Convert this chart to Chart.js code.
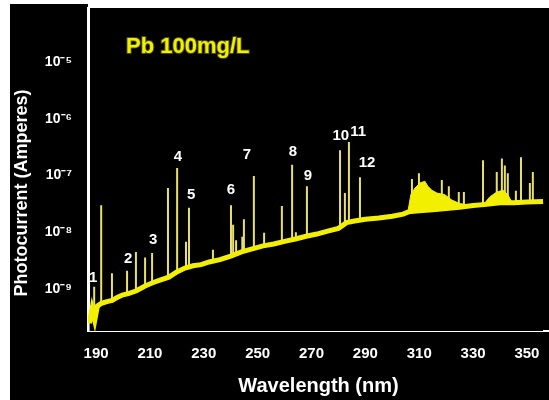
<!DOCTYPE html>
<html>
<head>
<meta charset="utf-8">
<script src="https://cdn.jsdelivr.net/npm/chart.js@4.4.1/dist/chart.umd.min.js"></script>
<style>
  html, body { margin: 0; padding: 0; background: #fff; }
  canvas { display: block; }
</style>
</head>
<body>
<canvas id="chart" width="549" height="400"></canvas>
<script>
var xTicks = [190, 210, 230, 250, 270, 290, 310, 330, 350];
var yTicks = [1e-9, 1e-8, 1e-7, 1e-6, 1e-5];
var yTickLabels = ['10⁻⁹', '10⁻⁸', '10⁻⁷', '10⁻⁶', '10⁻⁵'];
var yMin = 1.82e-10;
var yMax = 8.95e-5;

// background (noisy continuum)
var baseWavelength = [187.5, 188.5, 189.5, 190.5, 192, 194, 196, 198, 200, 202, 205, 208, 211, 214, 217, 220,
  223, 226, 229, 232, 236, 240, 244, 248, 252, 256, 260, 264, 268, 272, 276, 280, 283, 286, 290, 295, 300,
  304, 306, 310, 315, 320, 325, 330, 335, 340, 345, 350, 356];
var baseCurrent = [2.5e-10, 4.5e-10, 2.8e-10, 5.0e-10, 5.6e-10, 6.0e-10, 6.3e-10, 7.2e-10, 7.9e-10, 8.3e-10,
  9.3e-10, 1.12e-9, 1.29e-9, 1.45e-9, 1.62e-9, 2.0e-9, 2.34e-9, 2.57e-9, 2.69e-9, 3.0e-9, 3.3e-9, 3.8e-9,
  4.5e-9, 5.1e-9, 5.75e-9, 6.2e-9, 6.9e-9, 7.6e-9, 8.5e-9, 9.3e-9, 1.05e-8, 1.17e-8, 1.48e-8, 1.58e-8,
  1.7e-8, 1.78e-8, 1.91e-8, 2.09e-8, 2.29e-8, 2.4e-8, 2.5e-8, 2.63e-8, 2.75e-8, 2.95e-8, 3.1e-8, 3.3e-8,
  3.3e-8, 3.4e-8, 3.5e-8];

// band structure between 306 and 345 nm
var humpWavelength = [305.8, 306.9, 308.4, 310.3, 312.1, 313.2, 314.7, 316.6, 319.5, 322.1, 325.1, 328.8,
  334.4, 336.2, 338.8, 341.1, 342.9, 344.4];
var humpCurrent = [2.3e-8, 4.6e-8, 6.0e-8, 7.4e-8, 7.9e-8, 6.5e-8, 5.5e-8, 4.9e-8, 4.6e-8, 3.7e-8, 3.2e-8,
  3.0e-8, 3.3e-8, 4.2e-8, 5.1e-8, 5.5e-8, 4.6e-8, 3.4e-8];

// emission lines: wavelength and peak current
var lineWavelength = [189.3, 191.9, 195.9, 201.5, 204.8, 208.2, 210.8, 216.7, 220.1, 223.4, 224.5, 233.4,
  240.1, 240.9, 242.0, 244.3, 244.9, 248.6, 252.4, 259.0, 262.8, 264.2, 268.3, 280.6, 282.4, 283.9, 288.0,
  307.3, 309.9, 318.4, 321.0, 324.7, 326.6, 333.7, 338.8, 340.7, 341.8, 342.9, 345.9, 347.8, 351.1, 352.2];
var linePeak = [1.1e-9, 3.0e-8, 1.9e-9, 2.1e-9, 4.5e-9, 3.6e-9, 4.3e-9, 6.0e-8, 1.35e-7, 6.8e-9, 2.7e-8, 4.9e-9,
  3.0e-8, 1.35e-8, 7.2e-9, 8.3e-9, 1.7e-8, 9.8e-8, 9.8e-9, 2.9e-8, 1.55e-7, 1.0e-8, 6.5e-8, 2.8e-7, 4.9e-8,
  3.9e-7, 9.3e-8, 8.7e-8, 1.1e-7, 8.3e-8, 6.5e-8, 5.1e-8, 5.1e-8, 1.86e-7, 1.15e-7, 2.0e-7, 1.5e-7, 1.1e-7,
  5.4e-8, 2.1e-7, 7.4e-8, 1.15e-7];

// numbered line labels
var labelText = ['1', '2', '3', '4', '5', '6', '7', '8', '9', '10', '11', '12'];
var labelWavelength = [188.9, 201.9, 211.2, 220.4, 225.3, 240.1, 246.0, 263.1, 268.7, 280.9, 287.3, 290.6];
var labelCurrent = [1.55e-9, 3.4e-9, 7.2e-9, 2.1e-7, 4.6e-8, 5.5e-8, 2.3e-7, 2.6e-7, 9.8e-8, 5.0e-7, 5.9e-7, 1.66e-7];

var baseData = baseWavelength.map(function (w, i) { return {x: w, y: baseCurrent[i]}; });
var humpData = humpWavelength.map(function (w, i) { return {x: w, y: humpCurrent[i]}; });
var lineData = [];
lineWavelength.forEach(function (w, i) {
  lineData.push({x: w, y: yMin});
  lineData.push({x: w, y: linePeak[i]});
  lineData.push({x: w, y: null});
});

var panel = {
  id: 'panel',
  beforeDraw: function (chart) {
    var ctx = chart.ctx;
    ctx.save();
    ctx.fillStyle = '#000';
    ctx.fillRect(10, 4, chart.width - 10, chart.height - 4);
    ctx.fillStyle = '#fff';
    ctx.fillRect(chart.chartArea.left, 4, chart.width, 4);
    ctx.restore();
  },
  afterDraw: function (chart) {
    var ctx = chart.ctx;
    var area = chart.chartArea;
    var xs = chart.scales.x;
    var ys = chart.scales.y;
    ctx.save();
    ctx.textAlign = 'center';
    ctx.textBaseline = 'middle';
    ctx.fillStyle = '#fff';
    ctx.font = 'bold 15px "Liberation Sans", Arial, sans-serif';
    labelText.forEach(function (t, i) {
      ctx.fillText(t, xs.getPixelForValue(labelWavelength[i]), ys.getPixelForValue(labelCurrent[i]));
    });
    // plot title
    ctx.textAlign = 'left';
    ctx.textBaseline = 'alphabetic';
    ctx.font = 'bold 22px "Liberation Sans", Arial, sans-serif';
    ctx.lineWidth = 2;
    ctx.strokeStyle = '#4a4a00';
    ctx.strokeText('Pb 100mg/L', area.left + 38, area.top + 45);
    ctx.fillStyle = '#f2f000';
    ctx.fillText('Pb 100mg/L', area.left + 38, area.top + 45);
    // y axis title
    ctx.translate(area.left - 66, 193);
    ctx.rotate(-Math.PI / 2);
    ctx.textAlign = 'center';
    ctx.textBaseline = 'middle';
    ctx.fillStyle = '#fff';
    ctx.font = 'bold 18px "Liberation Sans", Arial, sans-serif';
    ctx.fillText('Photocurrent (Amperes)', 0, 0);
    ctx.restore();
  }
};

new Chart(document.getElementById('chart'), {
  type: 'line',
  data: {
    datasets: [
      {
        data: baseData,
        borderColor: '#f2f000',
        borderWidth: 5,
        backgroundColor: '#000',
        fill: 'start',
        pointRadius: 0,
        tension: 0,
      },
      {
        data: humpData,
        borderColor: '#f2f000',
        borderWidth: 1,
        backgroundColor: '#f2f000',
        fill: 'start',
        pointRadius: 0,
        tension: 0,
      },
      {
        data: lineData,
        borderColor: '#e8e06a',
        borderWidth: 2,
        fill: false,
        pointRadius: 0,
        spanGaps: false,
      },
    ]
  },
  options: {
    responsive: false,
    animation: false,
    layout: { padding: { top: 8, right: 0, left: 0, bottom: 0 } },
    plugins: {
      legend: { display: false },
      tooltip: { enabled: false },
    },
    scales: {
      x: {
        type: 'linear',
        min: 187,
        max: 358.2,
        z: 1,
        afterBuildTicks: function (scale) {
          scale.ticks = xTicks.map(function (v) { return {value: v}; });
        },
        afterFit: function (scale) {
          scale.height = 69;
          scale.paddingLeft = 0;
          scale.paddingRight = 0;
        },
        ticks: {
          color: '#fff',
          font: { family: '"Liberation Sans", Arial, sans-serif', size: 15, weight: 'bold' },
          padding: 14,
          maxRotation: 0,
          autoSkip: false,
        },
        grid: { display: false, drawTicks: false },
        border: { color: '#fff', width: 2 },
        title: {
          display: true,
          text: 'Wavelength (nm)',
          color: '#fff',
          font: { family: '"Liberation Sans", Arial, sans-serif', size: 20, weight: 'bold' },
          padding: { top: 0, bottom: 2 },
        },
      },
      y: {
        type: 'logarithmic',
        min: yMin,
        max: yMax,
        z: 1,
        afterBuildTicks: function (scale) {
          scale.ticks = yTicks.map(function (v) { return {value: v, major: true}; });
        },
        afterFit: function (scale) {
          scale.width = 88;
          scale.paddingTop = 0;
          scale.paddingBottom = 0;
        },
        ticks: {
          color: '#fff',
          font: { family: '"Liberation Sans", Arial, sans-serif', size: 14, weight: 'bold' },
          padding: 16,
          callback: function (value, index) { return yTickLabels[index]; },
        },
        grid: { display: false, drawTicks: false },
        border: { color: '#fff', width: 3 },
      },
    },
  },
  plugins: [panel],
});
</script>
</body>
</html>
